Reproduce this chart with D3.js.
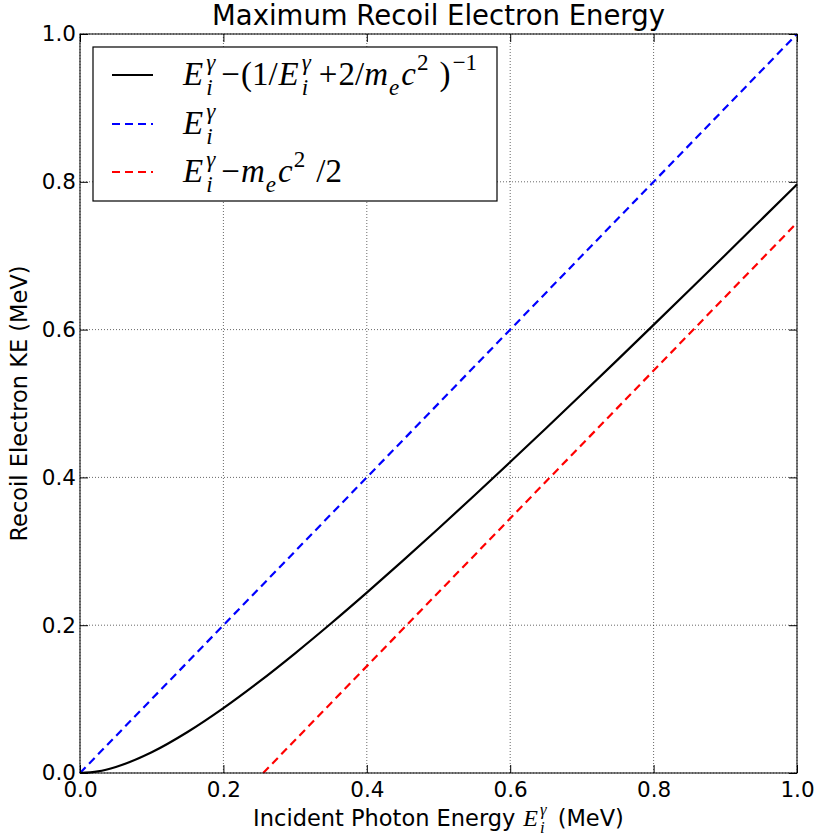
<!DOCTYPE html>
<html>
<head>
<meta charset="utf-8">
<script src="https://cdn.jsdelivr.net/npm/d3@7"></script>
<style>
  body { margin: 0; background: #fff; }
  svg text { fill: #000; }
</style>
</head>
<body>
<script>
// Incident photon energy samples (MeV)
const energies = [0, 0.025, 0.05, 0.1, 0.15, 0.2, 0.25, 0.3, 0.35, 0.4, 0.45, 0.5,
                  0.55, 0.6, 0.65, 0.7, 0.75, 0.8, 0.85, 0.9, 0.95, 1.0];
// max recoil KE
const recoilKE = [0, 0.0022, 0.0082, 0.0281, 0.0555, 0.0878, 0.1236, 0.162, 0.2023, 0.2441, 0.287, 0.3309,
                  0.3755, 0.4208, 0.4666, 0.5128, 0.5594, 0.6064, 0.6536, 0.701, 0.7487, 0.7965];
// blue dashed (E) and red dashed (E - mc^2/2) end points
const photonLine = [[0, 0], [1, 1]];
const halfMassLine = [[0.2555, 0], [1, 0.7445]];
const tickValues = [0, 0.2, 0.4, 0.6, 0.8, 1.0];

const W = 819, H = 838;
const margin = {left: 80, top: 34, right: 22, bottom: 65};
const SANS = '"DejaVu Sans", sans-serif';
const SERIF = '"Liberation Serif", "DejaVu Serif", serif';

const svg = d3.select('body').append('svg').attr('width', W).attr('height', H);

const x = d3.scaleLinear().domain([0, 1]).range([margin.left, W - margin.right]);
const y = d3.scaleLinear().domain([0, 1]).range([H - margin.bottom, margin.top]);

const plot = svg.append('g');

// grid
plot.selectAll('line.vgrid').data(tickValues).enter().append('line')
  .attr('x1', d => x(d)).attr('x2', d => x(d))
  .attr('y1', y(0)).attr('y2', y(1))
  .attr('stroke', '#000').attr('stroke-width', 0.6).attr('stroke-dasharray', '1,2');
plot.selectAll('line.hgrid').data(tickValues).enter().append('line')
  .attr('y1', d => y(d)).attr('y2', d => y(d))
  .attr('x1', x(0)).attr('x2', x(1))
  .attr('stroke', '#000').attr('stroke-width', 0.6).attr('stroke-dasharray', '1,2');

const line = d3.line().x(d => x(d[0])).y(d => y(d[1]));

plot.append('path').datum(photonLine).attr('d', line)
  .attr('fill', 'none').attr('stroke', '#0000ff').attr('stroke-width', 2.2).attr('stroke-dasharray', '8,5');
plot.append('path').datum(halfMassLine).attr('d', line)
  .attr('fill', 'none').attr('stroke', '#ff0000').attr('stroke-width', 2.2).attr('stroke-dasharray', '8,5');
plot.append('path').datum(energies.map((e, i) => [e, recoilKE[i]]))
  .attr('d', line.curve(d3.curveMonotoneX))
  .attr('fill', 'none').attr('stroke', '#000').attr('stroke-width', 2.2);

// frame + inward ticks on all sides
const TICK = 8;
svg.append('rect').attr('x', x(0)).attr('y', y(1))
  .attr('width', x(1) - x(0)).attr('height', y(0) - y(1))
  .attr('fill', 'none').attr('stroke', '#000').attr('stroke-width', 1);

svg.append('g').attr('transform', `translate(0,${y(0)})`)
  .call(d3.axisBottom(x).tickValues(tickValues).tickFormat(d3.format('.1f')).tickSizeInner(-TICK).tickSizeOuter(0).tickPadding(9))
  .call(g => g.select('.domain').remove())
  .call(g => g.selectAll('text').attr('font-size', 21.5).attr('font-family', SANS));
svg.append('g').attr('transform', `translate(0,${y(1)})`)
  .call(d3.axisTop(x).tickValues(tickValues).tickFormat('').tickSizeInner(-TICK).tickSizeOuter(0))
  .call(g => g.select('.domain').remove());
svg.append('g').attr('transform', `translate(${x(0)},0)`)
  .call(d3.axisLeft(y).tickValues(tickValues).tickFormat(d3.format('.1f')).tickSizeInner(-TICK).tickSizeOuter(0).tickPadding(4))
  .call(g => g.select('.domain').remove())
  .call(g => g.selectAll('text').attr('font-size', 21.5).attr('font-family', SANS));
svg.append('g').attr('transform', `translate(${x(1)},0)`)
  .call(d3.axisRight(y).tickValues(tickValues).tickFormat('').tickSizeInner(-TICK).tickSizeOuter(0))
  .call(g => g.select('.domain').remove());

// math text helper: tokens are {t, it} or {sup, sub}
function mathText(parent, x0, y0, tokens, size) {
  const g = parent.append('g');
  let cx = x0;
  const put = (str, px, py, fs, italic) => {
    const t = g.append('text').attr('x', px).attr('y', py)
      .style('font-family', SERIF)
      .style('font-style', italic ? 'italic' : 'normal')
      .attr('font-size', fs).text(str);
    return t.node().getComputedTextLength();
  };
  tokens.forEach(tk => {
    if (tk.sup !== undefined || tk.sub !== undefined) {
      let w = 0;
      if (tk.sup) w = Math.max(w, put(tk.sup, cx + 1, y0 - size * 0.45, size * 0.7, tk.supIt !== false));
      if (tk.sub) w = Math.max(w, put(tk.sub, cx + 1, y0 + size * 0.3, size * 0.7, true));
      cx += w + (tk.pad !== undefined ? tk.pad : 4);
    } else {
      cx += put(tk.t, cx, y0, size, tk.it) + (tk.pad || 0);
    }
  });
  return cx - x0;
}

// legend
const LX = 93, LY = 47, LW = 404, LH = 154;
svg.append('rect').attr('x', LX).attr('y', LY).attr('width', LW).attr('height', LH)
  .attr('fill', '#fff').attr('stroke', '#000').attr('stroke-width', 1.2);

const legendRows = [
  {color: '#000', dash: null, cy: 75, tokens: [
    {t: 'E', it: true, pad: 2}, {sup: 'γ', sub: 'i', pad: 7}, {t: '−', it: false, pad: 1}, {t: '(1/', it: false, pad: 1},
    {t: 'E', it: true, pad: 2}, {sup: 'γ', sub: 'i', pad: 9}, {t: '+', it: false, pad: 1}, {t: '2/', it: false},
    {t: 'm', it: true}, {sub: 'e', pad: 3}, {t: 'c', it: true}, {sup: '2', supIt: false, pad: 12},
    {t: ')', it: false, pad: 1}, {sup: '−1', supIt: false}]},
  {color: '#0000ff', dash: '8,5', cy: 124, tokens: [{t: 'E', it: true, pad: 2}, {sup: 'γ', sub: 'i'}]},
  {color: '#ff0000', dash: '8,5', cy: 172, tokens: [
    {t: 'E', it: true, pad: 2}, {sup: 'γ', sub: 'i', pad: 7}, {t: '−', it: false, pad: 1}, {t: 'm', it: true},
    {sub: 'e', pad: 3}, {t: 'c', it: true}, {sup: '2', supIt: false, pad: 12}, {t: '/2', it: false}]}
];
legendRows.forEach(r => {
  svg.append('line').attr('x1', 112).attr('x2', 153).attr('y1', r.cy).attr('y2', r.cy)
    .attr('stroke', r.color).attr('stroke-width', 2.2)
    .attr('stroke-dasharray', r.dash);
  mathText(svg, 183, r.cy + 10, r.tokens, 33);
});

// title and axis labels
svg.append('text').attr('x', (x(0) + x(1)) / 2).attr('y', 25).attr('text-anchor', 'middle')
  .style('font-family', SANS).attr('font-size', 27.5).text('Maximum Recoil Electron Energy');

const XLY = 826;
const xl = svg.append('g');
const xlText = xl.append('text').attr('x', 0).attr('y', XLY).style('font-family', SANS)
  .attr('font-size', 22.5).text('Incident Photon Energy');
const w1 = xlText.node().getComputedTextLength() + 8;
const wm = mathText(xl, w1, XLY, [{t: 'E', it: true, pad: 1}, {sup: 'γ', sub: 'i'}], 24);
const xlText2 = xl.append('text').attr('x', w1 + wm + 8).attr('y', XLY).style('font-family', SANS)
  .attr('font-size', 22.5).text('(MeV)');
const total = w1 + wm + 8 + xlText2.node().getComputedTextLength();
xl.attr('transform', `translate(${(x(0) + x(1)) / 2 - total / 2},0)`);

svg.append('text').attr('transform', `translate(27,${(y(0) + y(1)) / 2}) rotate(-90)`)
  .attr('text-anchor', 'middle').style('font-family', SANS).attr('font-size', 22.5).text('Recoil Electron KE (MeV)');
</script>
</body>
</html>
